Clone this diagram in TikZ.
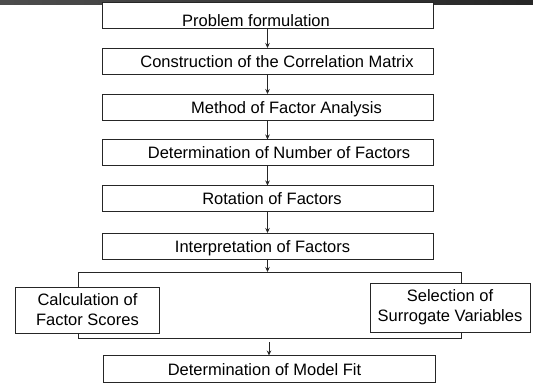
\documentclass[tikz,border=0pt]{standalone}
\usepackage{fontspec}
\setmainfont{Liberation Sans}
\usepackage{tikz}
\usetikzlibrary{arrows.meta,positioning}

\tikzset{
  stage/.style={draw=black!85, fill=white, line width=1bp, minimum width=331bp,
    minimum height=26bp, inner sep=0pt, outer sep=0pt,
    font=\fontsize{16.5bp}{20bp}\selectfont},
  oneline/.style={text height=14bp, text depth=2bp},
  flow/.style={draw=black!85, line width=0.9bp, -{Stealth[length=5bp,width=4.5bp]}},
}

\begin{document}
\begin{tikzpicture}[x=1bp, y=-1bp]
	\useasboundingbox (0,0) rectangle (533,383);

	% header bar of the slide
	\shade[left color=black!70, middle color=black!20, right color=black!85] (0,0) rectangle (533,4);

	% frame round the two parallel steps
	\node[draw=black!85, line width=1bp, minimum width=382bp, minimum height=66bp,
		inner sep=0pt, outer sep=0pt] (split) at (270,305) {};

	\node[stage, text height=22bp, text depth=0pt] (s1) at (267.5,15)
		{\hspace*{-23bp}Problem formulation};
	\foreach \n/\y/\dx/\txt in {2/61/19/Construction of the Correlation Matrix,
			3/107/38/Method of Factor Analysis,
			4/152.5/23/Determination of Number of Factors,
			5/198.5/9/Rotation of Factors,
			6/246/-10/Interpretation of Factors} {
			\node[stage, oneline] (s\n) at (267.5,\y) {\hspace*{\dx bp}\txt};
		}

	\foreach \a/\b in {1/2, 2/3, 3/4, 4/5, 5/6} {
			\draw[flow] (s\a) -- (s\b);
		}
	\draw[flow] (s6.south) -- (s6.south |- split.north);

	\node[stage, minimum width=143bp, minimum height=46bp, align=center] (scores) at (87.5,310)
		{Calculation of\\Factor Scores};
	\node[stage, minimum width=160bp, minimum height=49bp, align=center] (surrogate) at (450,307.5)
		{Selection of\\Surrogate Variables};

	\node[stage, oneline, minimum width=332bp, minimum height=27bp] (fit) at (269,369)
		{\hspace*{-9bp}Determination of Model Fit};
	\draw[flow] ([yshift=-4bp]fit.north |- split.south) -- (fit.north);
\end{tikzpicture}
\end{document}
